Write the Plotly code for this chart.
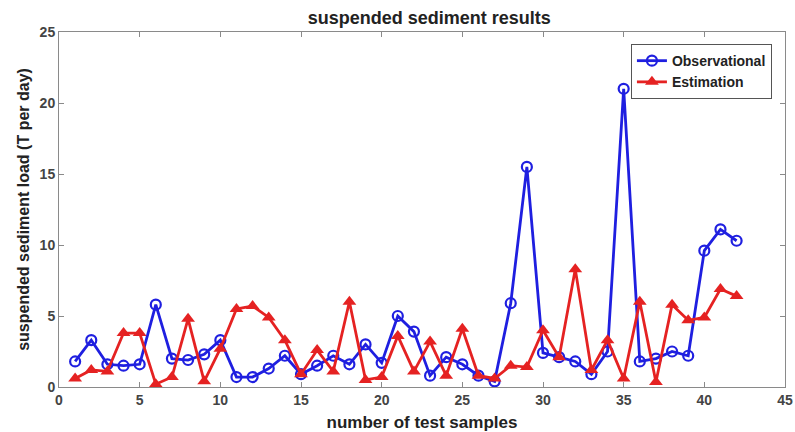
import plotly.graph_objects as go

samples = list(range(1, 43))
observational = [1.8, 3.3, 1.6, 1.5, 1.6, 5.8, 2.0, 1.9, 2.3, 3.3,
                 0.7, 0.7, 1.3, 2.2, 0.9, 1.5, 2.2, 1.6, 3.0, 1.7,
                 5.0, 3.9, 0.8, 2.1, 1.6, 0.8, 0.4, 5.9, 15.5, 2.4,
                 2.1, 1.8, 0.9, 2.5, 21.0, 1.8, 2.0, 2.5, 2.2, 9.6,
                 11.1, 10.3]
estimation = [0.6, 1.2, 1.1, 3.8, 3.8, 0.2, 0.7, 4.8, 0.4, 2.7,
              5.5, 5.7, 4.9, 3.3, 0.9, 2.6, 1.1, 6.0, 0.5, 0.7,
              3.6, 1.1, 3.2, 0.8, 4.1, 0.8, 0.6, 1.5, 1.4, 4.0,
              2.1, 8.3, 1.2, 3.3, 0.6, 6.0, 0.35, 5.8, 4.7, 4.9,
              6.9, 6.4]

x_ticks = [0, 5, 10, 15, 20, 25, 30, 35, 40, 45]
y_ticks = [0, 5, 10, 15, 20, 25]

BLUE = "#1f1fe0"
RED = "#e52222"
FONT = "Liberation Sans"
TXT = "#222222"

fig = go.Figure()
fig.add_trace(go.Scatter(
    x=samples, y=observational, mode="lines+markers", name="<b>Observational</b>",
    line=dict(color=BLUE, width=2.8),
    marker=dict(symbol="circle-open", size=10, color=BLUE, line=dict(width=2.2, color=BLUE)),
))
fig.add_trace(go.Scatter(
    x=samples, y=estimation, mode="lines+markers", name="<b>Estimation</b>",
    line=dict(color=RED, width=2.8),
    marker=dict(symbol="triangle-up", size=12, color=RED, line=dict(width=0)),
))

axis_common = dict(
    showgrid=False, zeroline=False, showline=True, linecolor="#8a8a8a", linewidth=1,
    mirror="allticks", ticks="inside", ticklen=5, tickcolor="#8a8a8a",
    tickfont=dict(family=FONT, size=14, color="#444444", weight="bold"),
    automargin=False,
)

fig.update_layout(
    width=795, height=432,
    margin=dict(l=59, r=10, t=32, b=45),
    paper_bgcolor="white", plot_bgcolor="white",
    font=dict(family=FONT, color=TXT),
    title=dict(text="<b>suspended sediment results</b>", x=0.54, xanchor="center",
               y=1 - 18 / 432, yanchor="middle", yref="container",
               font=dict(family=FONT, size=18, color=TXT)),
    xaxis=dict(range=[0, 45], tickvals=x_ticks,
               title=dict(text="<b>number of test samples</b>", standoff=11,
                          font=dict(family=FONT, size=17, color=TXT)),
               **axis_common),
    yaxis=dict(range=[0, 25], tickvals=y_ticks,
               title=dict(text="<b>suspended sediment load (T per day)</b>", standoff=6,
                          font=dict(family=FONT, size=16, color=TXT)),
               **axis_common),
    legend=dict(x=0.982, xanchor="right", y=0.966, yanchor="top",
                bgcolor="white", bordercolor="#555555", borderwidth=1,
                font=dict(family=FONT, size=14, color=TXT),
                tracegroupgap=0, itemwidth=30),
    showlegend=True,
)

fig.write_html("out.html", config={"displayModeBar": False},
               post_script="document.body.style.margin='0';document.body.style.padding='0';")
